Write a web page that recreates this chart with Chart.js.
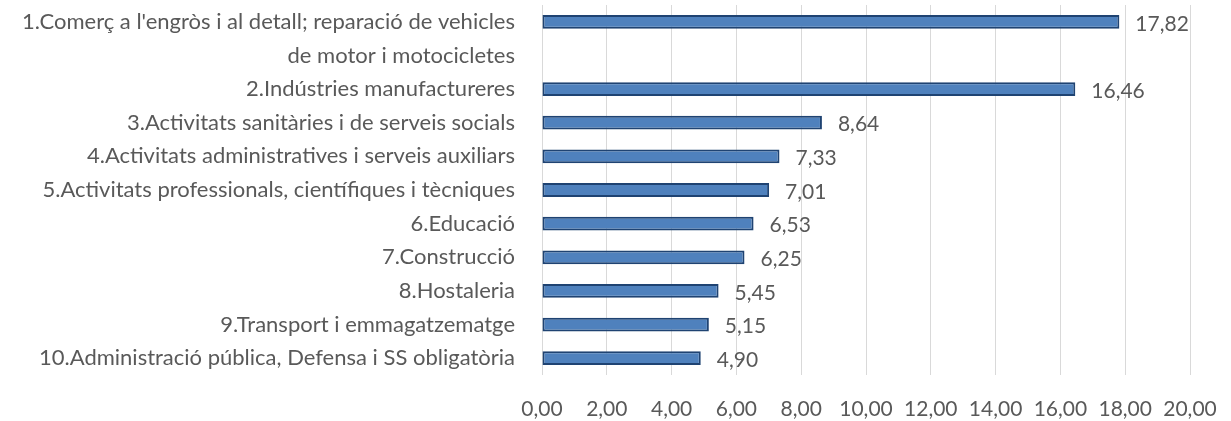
<!DOCTYPE html>
<html>
<head>
<meta charset="utf-8">
<script src="https://cdn.jsdelivr.net/npm/chart.js@4/dist/chart.umd.min.js"></script>
<style>
  html, body { margin: 0; padding: 0; background: #fff; }
  #wrap { width: 1231px; height: 421px; }
</style>
</head>
<body>
<div id="wrap"><canvas id="chart"></canvas></div>
<script>
// categories (the first label wraps onto a second row with no value)
const categories = [
  "1.Comerç a l'engròs i al detall; reparació de vehicles",
  "de motor i motocicletes",
  "2.Indústries manufactureres",
  "3.Activitats sanitàries i de serveis socials",
  "4.Activitats administratives i serveis auxiliars",
  "5.Activitats professionals, científiques i tècniques",
  "6.Educació",
  "7.Construcció",
  "8.Hostaleria",
  "9.Transport i emmagatzematge",
  "10.Administració pública, Defensa i SS obligatòria"
];
const values = [17.82, null, 16.46, 8.64, 7.33, 7.01, 6.53, 6.25, 5.45, 5.15, 4.90];
const xMin = 0, xMax = 20, xStep = 2;

const fmt = v => v.toFixed(2).replace('.', ',');
const textColor = '#595959';
const fontFamily = 'Lato, "Liberation Sans", sans-serif';

// draws the value at the end of each bar
const valueLabels = {
  id: 'valueLabels',
  afterDatasetsDraw(chart) {
    const ctx = chart.ctx;
    const meta = chart.getDatasetMeta(0);
    ctx.save();
    ctx.font = '21px ' + fontFamily;
    ctx.fillStyle = textColor;
    ctx.textAlign = 'left';
    ctx.textBaseline = 'middle';
    meta.data.forEach((bar, i) => {
      const v = values[i];
      if (v == null) return;
      ctx.fillText(fmt(v), bar.x + 16, bar.y + 2);
    });
    ctx.restore();
  }
};

new Chart(document.getElementById('chart'), {
  type: 'bar',
  data: {
    labels: categories,
    datasets: [{
      data: values,
      backgroundColor: '#4F81BD',
      borderColor: '#1F4372',
      borderWidth: 2,
      borderSkipped: false,
      categoryPercentage: 1,
      barPercentage: 0.41
    }]
  },
  options: {
    indexAxis: 'y',
    responsive: true,
    maintainAspectRatio: false,
    animation: false,
    layout: { padding: 0 },
    plugins: {
      legend: { display: false },
      tooltip: { enabled: false }
    },
    scales: {
      x: {
        min: xMin,
        max: xMax,
        afterFit: (s) => {
          s.height = 46;
          s.paddingLeft = 0;
          s.paddingRight = 41;
        },
        afterBuildTicks: (s) => {
          s.ticks = [];
          for (let v = xMin; v <= xMax; v += xStep) s.ticks.push({ value: v });
        },
        grid: { color: '#d9d9d9', lineWidth: 1, drawTicks: false },
        border: { display: false },
        ticks: {
          color: textColor,
          font: { family: fontFamily, size: 21 },
          padding: 22,
          maxRotation: 0,
          callback: (v) => fmt(v)
        }
      },
      y: {
        afterFit: (s) => {
          s.width = 542;
          s.paddingTop = 5;
          s.paddingBottom = 0;
        },
        grid: { display: false, drawTicks: false },
        border: { display: false },
        ticks: {
          color: textColor,
          font: { family: fontFamily, size: 22 },
          padding: 27,
          autoSkip: false
        }
      }
    }
  },
  plugins: [valueLabels]
});
</script>
</body>
</html>
